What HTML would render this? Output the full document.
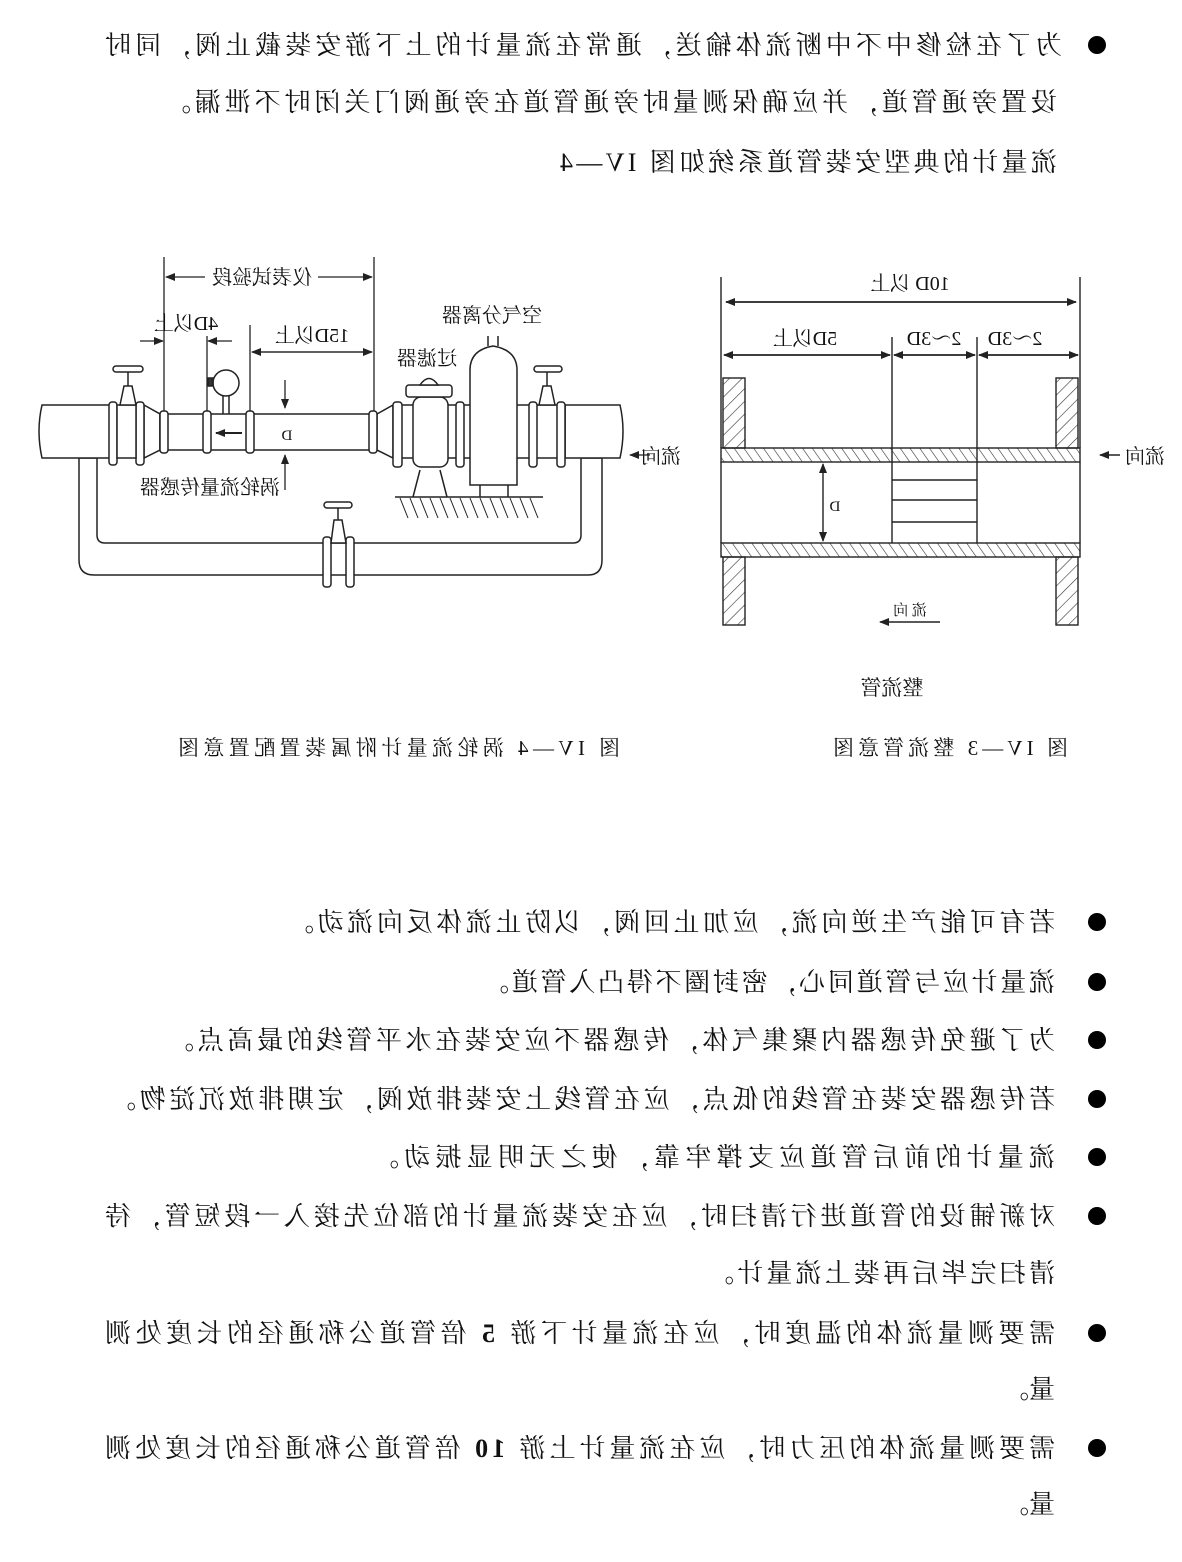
<!DOCTYPE html>
<html><head><meta charset="utf-8"><style>
html,body{margin:0;padding:0;background:#fff;}
svg{display:block;}
text{font-family:"Liberation Serif","Noto Serif CJK SC",serif;fill:#111;}
</style></head><body>
<svg width="1182" height="1562" viewBox="0 0 1182 1562" xmlns="http://www.w3.org/2000/svg">
<defs>
<pattern id="h" width="8" height="8" patternUnits="userSpaceOnUse" patternTransform="rotate(-35)">
<line x1="0" y1="0" x2="0" y2="8" stroke="#333" stroke-width="1.2"/></pattern>
<pattern id="h2" width="9" height="9" patternUnits="userSpaceOnUse" patternTransform="rotate(45)">
<line x1="0" y1="0" x2="0" y2="9" stroke="#333" stroke-width="1.2"/></pattern>
<marker id="a" markerWidth="10" markerHeight="8" refX="9" refY="4" orient="auto" markerUnits="userSpaceOnUse">
<path d="M0,0 L10,4 L0,8 Z" fill="#222"/></marker>
</defs>

<g font-size="26">
<text transform="translate(1062,54) scale(-1,1)" textLength="957" lengthAdjust="spacing">为了在检修中不中断流体输送，通常在流量计的上下游安装截止阀，同时</text>
<text transform="translate(1057,111) scale(-1,1)" textLength="892" lengthAdjust="spacing">设置旁通管道，并应确保测量时旁通管道在旁通阀门关闭时不泄漏。</text>
<text transform="translate(1057,171) scale(-1,1)" textLength="497" lengthAdjust="spacing">流量计的典型安装管道系统如图 IV—4</text>
<text transform="translate(1055,931) scale(-1,1)" textLength="767" lengthAdjust="spacing">若有可能产生逆向流，应加止回阀，以防止流体反向流动。</text>
<text transform="translate(1055,991) scale(-1,1)" textLength="572" lengthAdjust="spacing">流量计应与管道同心，密封圈不得凸入管道。</text>
<text transform="translate(1055,1049) scale(-1,1)" textLength="887" lengthAdjust="spacing">为了避免传感器内聚集气体，传感器不应安装在水平管线的最高点。</text>
<text transform="translate(1055,1108) scale(-1,1)" textLength="945" lengthAdjust="spacing">若传感器安装在管线的低点，应在管线上安装排放阀，定期排放沉淀物。</text>
<text transform="translate(1055,1166) scale(-1,1)" textLength="682" lengthAdjust="spacing">流量计的前后管道应支撑牢靠，使之无明显振动。</text>
<text transform="translate(1055,1225) scale(-1,1)" textLength="950" lengthAdjust="spacing">对新铺设的管道进行清扫时，应在安装流量计的部位先接入一段短管，待</text>
<text transform="translate(1055,1282) scale(-1,1)" textLength="347" lengthAdjust="spacing">清扫完毕后再装上流量计。</text>
<text transform="translate(1055,1342) scale(-1,1)" textLength="950" lengthAdjust="spacing">需要测量流体的温度时，应在流量计下游 <tspan font-weight="bold">5</tspan> 倍管道公称通径的长度处测</text>
<text transform="translate(1055,1398) scale(-1,1)">量。</text>
<text transform="translate(1055,1457) scale(-1,1)" textLength="950" lengthAdjust="spacing">需要测量流体的压力时，应在流量计上游 <tspan font-weight="bold">10</tspan> 倍管道公称通径的长度处测</text>
<text transform="translate(1055,1513) scale(-1,1)">量。</text>
</g>
<g fill="#000">
<circle cx="1097" cy="45" r="9"/><circle cx="1097" cy="922" r="9"/><circle cx="1097" cy="982" r="9"/>
<circle cx="1097" cy="1040" r="9"/><circle cx="1097" cy="1099" r="9"/><circle cx="1097" cy="1157" r="9"/>
<circle cx="1097" cy="1216" r="9"/><circle cx="1097" cy="1333" r="9"/><circle cx="1097" cy="1448" r="9"/>
</g>

<g font-size="21">
<text transform="translate(892,695) scale(-1,1)" text-anchor="middle">整流管</text>
<text transform="translate(1068,755) scale(-1,1)" textLength="235" lengthAdjust="spacing">图 IV—3 整流管意图</text>
<text transform="translate(620,755) scale(-1,1)" textLength="442" lengthAdjust="spacing">图 IV—4 涡轮流量计附属装置配置意图</text>
</g>

<!-- right diagram IV-3 -->
<g stroke="#222" stroke-width="1.4" fill="none">
<line x1="721" y1="277" x2="721" y2="448"/><line x1="1080" y1="277" x2="1080" y2="448"/>
<line x1="726" y1="302" x2="1076" y2="302" marker-end="url(#a)"/><line x1="1076" y1="302" x2="726" y2="302" marker-end="url(#a)"/>
<line x1="892" y1="337" x2="892" y2="543"/><line x1="977" y1="337" x2="977" y2="543"/>
<line x1="724" y1="355" x2="890" y2="355" marker-end="url(#a)"/><line x1="890" y1="355" x2="724" y2="355" marker-end="url(#a)"/>
<line x1="894" y1="355" x2="975" y2="355" marker-end="url(#a)"/><line x1="975" y1="355" x2="894" y2="355" marker-end="url(#a)"/>
<line x1="979" y1="355" x2="1078" y2="355" marker-end="url(#a)"/><line x1="1078" y1="355" x2="979" y2="355" marker-end="url(#a)"/>
<rect x="723" y="378" width="22" height="70" fill="url(#h2)"/>
<rect x="723" y="557" width="22" height="68" fill="url(#h2)"/>
<rect x="1056" y="378" width="22" height="70" fill="url(#h2)"/>
<rect x="1056" y="557" width="22" height="68" fill="url(#h2)"/>
<rect x="721" y="448" width="359" height="14" fill="url(#h)"/>
<rect x="721" y="543" width="359" height="14" fill="url(#h)"/>
<line x1="721" y1="462" x2="721" y2="543"/><line x1="1080" y1="462" x2="1080" y2="543"/>
<line x1="892" y1="480" x2="977" y2="480"/><line x1="892" y1="500" x2="977" y2="500"/><line x1="892" y1="522" x2="977" y2="522"/>
<line x1="823" y1="500" x2="823" y2="464" marker-end="url(#a)"/><line x1="823" y1="500" x2="823" y2="541" marker-end="url(#a)"/>
<line x1="940" y1="622" x2="880" y2="622" marker-end="url(#a)"/>
<line x1="1120" y1="455" x2="1100" y2="455" marker-end="url(#a)"/>
</g>
<g font-size="20">
<text transform="translate(910,290) scale(-1,1)" text-anchor="middle">10D 以上</text>
<text transform="translate(805,345) scale(-1,1)" text-anchor="middle">5D以上</text>
<text transform="translate(934,345) scale(-1,1)" text-anchor="middle">2～3D</text>
<text transform="translate(1015,345) scale(-1,1)" text-anchor="middle">2～3D</text>
<text transform="translate(835,511) scale(-1,1)" text-anchor="middle" font-size="15">D</text>
<text transform="translate(910,615) scale(-1,1)" text-anchor="middle" font-size="15" fill="#666">流 向</text>
<text transform="translate(1145,463) scale(-1,1)" text-anchor="middle">流向</text>
<text transform="translate(661,463) scale(-1,1)" text-anchor="middle">流向</text>
</g>

<!-- left diagram IV-4 -->
<g stroke="#222" stroke-width="1.5" fill="#fff">
<path d="M79,458 L79,560 Q79,575 94,575 L588,575 Q602,575 602,560 L602,458 L581,458 L581,535 Q581,543 573,543 L105,543 Q97,543 97,535 L97,458 Z"/>
<path d="M42,405 L112,405 L112,458 L42,458 Q36,431 42,405 Z"/>
<path d="M565,405 L620,405 Q626,431 620,458 L565,458 Z"/>
<path d="M144,405 L160,414 L160,450 L144,458 Z"/>
<rect x="160" y="414" width="214" height="36"/>
<path d="M377,414 L393,405 L393,458 L377,450 Z"/>
<rect x="400" y="405" width="165" height="53"/>
<rect x="109" y="402" width="8" height="63" rx="3"/><rect x="136" y="402" width="8" height="63" rx="3"/>
<rect x="117" y="405" width="19" height="53"/>
<rect x="160" y="411" width="8" height="42" rx="3"/><rect x="203" y="411" width="8" height="42" rx="3"/>
<rect x="246" y="411" width="8" height="42" rx="3"/><rect x="369" y="411" width="8" height="42" rx="3"/>
<rect x="393" y="402" width="9" height="65" rx="3"/><rect x="456" y="402" width="8" height="65" rx="3"/>
<rect x="529" y="402" width="8" height="65" rx="3"/><rect x="557" y="402" width="8" height="65" rx="3"/>
<path d="M120,405 L124,386 L132,386 L136,405 Z"/><line x1="128" y1="386" x2="128" y2="368"/>
<rect x="113" y="366" width="30" height="6" rx="3"/>
<path d="M539,405 L543,386 L551,386 L555,405 Z"/><line x1="547" y1="386" x2="547" y2="368"/>
<rect x="534" y="366" width="28" height="6" rx="3"/>
<line x1="223" y1="396" x2="223" y2="414"/><line x1="229" y1="396" x2="229" y2="414"/>
<circle cx="226" cy="383" r="13"/><rect x="208" y="378" width="5" height="8" fill="#333"/>
<path d="M420,470 L413,497 M440,470 L447,497" fill="none"/>
<rect x="413" y="397" width="35" height="70" rx="8"/>
<rect x="406" y="385" width="46" height="12" rx="3"/>
<path d="M420,385 Q429,372 438,385 Z"/>
<line x1="480" y1="485" x2="480" y2="497"/><line x1="508" y1="485" x2="508" y2="497"/>
<path d="M470,485 L470,370 Q470,350 493,346 Q517,350 517,370 L517,485 Z"/>
<path d="M488,346 L488,336 M498,346 L498,336" fill="none"/>
<line x1="395" y1="497" x2="543" y2="497"/>
<path d="M400,498 l8,20 M410,498 l8,20 M420,498 l8,20 M430,498 l8,20 M440,498 l8,20 M450,498 l8,20 M460,498 l8,20 M470,498 l8,20 M480,498 l8,20 M490,498 l8,20 M500,498 l8,20 M510,498 l8,20 M520,498 l8,20 M530,498 l8,20" fill="none" stroke-width="1"/>
<rect x="323" y="537" width="8" height="50" rx="3"/><rect x="346" y="537" width="8" height="50" rx="3"/>
<path d="M331,543 L334,520 L342,520 L346,543 Z"/><line x1="338" y1="520" x2="338" y2="505"/>
<rect x="324" y="502" width="28" height="6" rx="3"/>
</g>
<g stroke="#222" stroke-width="1.3" fill="none">
<line x1="164" y1="257" x2="164" y2="411"/><line x1="374" y1="257" x2="374" y2="411"/>
<line x1="207" y1="336" x2="207" y2="411"/><line x1="250" y1="325" x2="250" y2="411"/>
<line x1="205" y1="277" x2="166" y2="277" marker-end="url(#a)"/><line x1="318" y1="277" x2="372" y2="277" marker-end="url(#a)"/>
<line x1="140" y1="341" x2="163" y2="341" marker-end="url(#a)"/><line x1="232" y1="341" x2="208" y2="341" marker-end="url(#a)"/>
<line x1="252" y1="352" x2="372" y2="352" marker-end="url(#a)"/><line x1="372" y1="352" x2="252" y2="352" marker-end="url(#a)"/>
<line x1="285" y1="380" x2="285" y2="408" marker-end="url(#a)"/><line x1="285" y1="490" x2="285" y2="455" marker-end="url(#a)"/>
<line x1="242" y1="433" x2="216" y2="433" marker-end="url(#a)" stroke-width="2"/>
<line x1="650" y1="455" x2="630" y2="455" marker-end="url(#a)"/>
</g>
<g font-size="20" fill="#333">
<text transform="translate(262,284) scale(-1,1)" text-anchor="middle">仪表试验段</text>
<text transform="translate(186,330) scale(-1,1)" text-anchor="middle">4D以上</text>
<text transform="translate(312,342) scale(-1,1)" text-anchor="middle">15D以上</text>
<text transform="translate(492,322) scale(-1,1)" text-anchor="middle">空气分离器</text>
<text transform="translate(427,365) scale(-1,1)" text-anchor="middle">过滤器</text>
<text transform="translate(210,494) scale(-1,1)" text-anchor="middle">涡轮流量传感器</text>
<text transform="translate(287,440) scale(-1,1)" text-anchor="middle" font-size="15">D</text>
</g>
</svg>
</body></html>
